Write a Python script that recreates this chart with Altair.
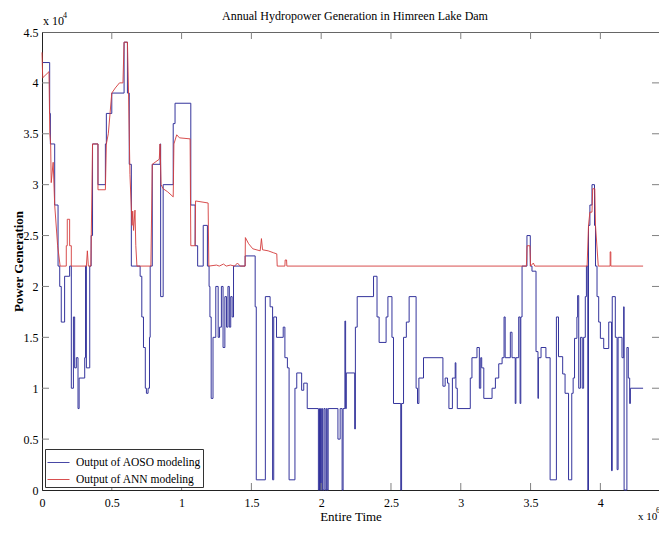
import altair as alt
import pandas as pd

# AOSO output (step series): x in units of 1e6, y in units of 1e4
aoso_x = [0.000, 0.055, 0.060, 0.091, 0.115, 0.127, 0.138, 0.162, 0.198, 0.210,
          0.225, 0.234, 0.246, 0.258, 0.266, 0.306, 0.312, 0.318, 0.342, 0.352,
          0.362, 0.401, 0.454, 0.461, 0.500, 0.588, 0.612, 0.625, 0.640, 0.703,
          0.715, 0.727, 0.740, 0.748, 0.760, 0.770, 0.775, 0.790, 0.846, 0.850,
          0.868, 0.940, 0.953, 1.066, 1.097, 1.115, 1.155, 1.185, 1.197, 1.203,
          1.212, 1.225, 1.245, 1.262, 1.272, 1.285, 1.297, 1.310, 1.322, 1.332,
          1.342, 1.352, 1.362, 1.372, 1.455, 1.527, 1.535, 1.600, 1.634, 1.652,
          1.660, 1.680, 1.728, 1.740, 1.758, 1.770, 1.812, 1.825, 1.860, 1.875,
          1.900, 1.980, 1.988, 1.995, 2.003, 2.010, 2.020, 2.028, 2.037, 2.043,
          2.050, 2.120, 2.136, 2.150, 2.157, 2.170, 2.175, 2.180, 2.240, 2.245,
          2.258, 2.375, 2.400, 2.415, 2.465, 2.478, 2.507, 2.518, 2.570, 2.576,
          2.590, 2.610, 2.630, 2.680, 2.690, 2.700, 2.733, 2.872, 2.888, 2.905,
          2.915, 2.940, 2.960, 2.965, 2.975, 3.068, 3.080, 3.116, 3.133, 3.143,
          3.150, 3.165, 3.224, 3.248, 3.272, 3.296, 3.310, 3.318, 3.355, 3.367,
          3.390, 3.395, 3.415, 3.425, 3.430, 3.439, 3.474, 3.498, 3.510, 3.539,
          3.553, 3.556, 3.575, 3.610, 3.640, 3.685, 3.700, 3.730, 3.747, 3.772,
          3.795, 3.805, 3.815, 3.832, 3.837, 3.845, 3.857, 3.870, 3.880, 3.892,
          3.900, 3.910, 3.915, 3.925, 3.940, 3.958, 3.965, 3.976, 3.988, 4.000,
          4.024, 4.060, 4.080, 4.085, 4.107, 4.120, 4.127, 4.155, 4.167, 4.170,
          4.190, 4.200, 4.210, 4.215, 4.306]
aoso_y = [4.2, 3.7, 3.4, 2.8, 2.2, 2.0, 1.65, 2.1, 2.2, 1.0,
          1.7, 1.2, 1.3, 0.8, 1.1, 1.3, 2.2, 1.2, 2.2, 2.5,
          3.4, 3.0, 3.4, 3.7, 3.9, 4.4, 3.9, 3.2, 2.2, 2.1,
          1.7, 1.4, 1.0, 0.95, 1.0, 1.5, 2.2, 3.2, 3.4, 1.9,
          3.0, 3.6, 3.8, 2.8, 2.4, 2.2, 2.6, 2.2, 2.0, 1.7,
          0.9, 1.5, 2.0, 1.5, 1.6, 2.0, 1.4, 1.9, 1.6, 2.0,
          1.6, 1.9, 1.7, 2.2, 2.3, 1.8, 0.1, 1.9, 1.8, 0.1,
          1.7, 1.5, 1.6, 1.3, 1.2, 0.1, 1.0, 1.15, 0.98, 1.05,
          0.8, 0.0, 0.8, 0.0, 0.8, 0.0, 0.8, 0.0, 0.8, 0.0,
          0.8, 0.5, 0.8, 0.0, 0.8, 1.66, 0.8, 1.15, 0.6, 1.6,
          1.9, 2.1, 1.7, 1.45, 1.7, 1.9, 1.5, 0.85, 0.0, 0.85,
          1.5, 1.65, 1.9, 1.0, 0.85, 1.1, 1.3, 1.02, 1.1, 1.05,
          0.8, 1.1, 1.25, 1.0, 0.8, 1.1, 1.3, 1.4, 1.0, 1.3,
          1.2, 0.9, 1.0, 1.1, 1.24, 1.3, 1.7, 1.3, 1.55, 1.3,
          0.85, 1.3, 1.7, 0.85, 1.7, 2.2, 2.5, 2.2, 2.15, 1.36,
          0.9, 1.3, 1.4, 1.3, 0.1, 1.7, 1.31, 1.14, 0.95, 0.1,
          0.95, 1.1, 1.49, 1.7, 1.91, 1.0, 1.5, 1.0, 1.5, 1.9,
          2.2, 0.0, 2.6, 2.8, 3.0, 2.6, 2.2, 1.9, 1.65, 1.49,
          1.39, 1.65, 0.19, 1.9, 1.5, 0.2, 1.5, 1.3, 1.8, 0.0,
          1.4, 1.1, 0.85, 1.0, 1.0]

# ANN output (vertices, linear)
ann_x = [0.000, 0.005, 0.050, 0.056, 0.062, 0.066, 0.080, 0.091, 0.112, 0.130,
         0.174, 0.174, 0.181, 0.181, 0.198, 0.198, 0.210, 0.210, 0.318, 0.325,
         0.332, 0.350, 0.362, 0.401, 0.401, 0.454, 0.461, 0.475, 0.500, 0.525,
         0.555, 0.580, 0.588, 0.612, 0.620, 0.630, 0.645, 0.650, 0.656, 0.666,
         0.672, 0.680, 0.780, 0.790, 0.840, 0.846, 0.853, 0.868, 0.900, 0.940,
         0.945, 0.965, 0.985, 1.061, 1.066, 1.097, 1.100, 1.190, 1.195, 1.250,
         1.270, 1.300, 1.320, 1.350, 1.380, 1.400, 1.420, 1.455, 1.457, 1.480,
         1.510, 1.563, 1.572, 1.580, 1.620, 1.660, 1.682, 1.685, 1.740, 1.742,
         1.752, 1.754, 3.470, 3.475, 3.495, 3.500, 3.520, 3.530, 3.905, 3.915,
         3.925, 3.940, 3.945, 3.960, 3.965, 3.985, 4.070, 4.070, 4.075, 4.075,
         4.306]
ann_y = [4.3, 4.05, 4.11, 3.5, 3.4, 3.02, 3.22, 2.8, 2.4, 2.2,
         2.2, 2.4, 2.4, 2.66, 2.66, 2.4, 2.4, 2.2, 2.2, 2.35,
         2.2, 2.2, 3.4, 3.4, 2.95, 2.95, 3.4, 3.5, 3.9, 3.95,
         4.0, 4.0, 4.4, 4.4, 3.9, 3.1, 2.6, 2.74, 2.55, 2.75,
         2.4, 2.2, 2.2, 3.2, 3.25, 3.4, 3.0, 2.96, 2.93, 2.88,
         3.4, 3.49, 3.46, 3.45, 2.4, 2.4, 2.84, 2.82, 2.2, 2.21,
         2.2, 2.22, 2.2, 2.21, 2.2, 2.23, 2.2, 2.2, 2.48, 2.42,
         2.37, 2.35, 2.47, 2.36, 2.35, 2.33, 2.32, 2.2, 2.2, 2.26,
         2.26, 2.2, 2.2, 2.4, 2.4, 2.2, 2.23, 2.2, 2.2, 2.6,
         2.73, 2.73, 2.96, 2.96, 2.6, 2.2, 2.2, 2.34, 2.34, 2.2,
         2.2]

x_ticks = [0, 0.5, 1, 1.5, 2, 2.5, 3, 3.5, 4]
y_ticks = [0, 0.5, 1, 1.5, 2, 2.5, 3, 3.5, 4, 4.5]
series_names = ["Output of AOSO modeling", "Output of ANN modeling"]
series_colors = ["#34349c", "#d43c3c"]
title_text = "Annual Hydropower Generation in Himreen Lake Dam"

W, H = 617, 458
FONT = "Liberation Serif"

aoso = pd.DataFrame({"x": aoso_x, "y": aoso_y, "series": series_names[0],
                     "i": list(range(len(aoso_x)))})
ann = pd.DataFrame({"x": ann_x, "y": ann_y, "series": series_names[1],
                    "i": list(range(len(ann_x)))})

xscale = alt.Scale(domain=[0, 4.42], nice=False, zero=False)
yscale = alt.Scale(domain=[0, 4.5], nice=False, zero=False)
xaxis = alt.Axis(values=x_ticks, format="~g", ticks=False, grid=False,
                 labelPadding=7, labelFlush=False, labelOverlap=False,
                 title="Entire Time", titleFontSize=13, titleFontWeight="normal",
                 titleBaseline="alphabetic", titleY=30)
yaxis = alt.Axis(values=y_ticks, format="~g", ticks=False, grid=False,
                 labelPadding=4, labelFlush=False, labelOverlap=False,
                 title="Power Generation", titleFontSize=13, titleFontWeight="bold",
                 titleX=-24, titleY=H / 2, titleAlign="center", titleBaseline="middle",
                 titleAngle=270)

xenc = alt.X("x:Q", scale=xscale, axis=xaxis)
yenc = alt.Y("y:Q", scale=yscale, axis=yaxis)
color = alt.Color("series:N",
                  scale=alt.Scale(domain=series_names, range=series_colors),
                  legend=alt.Legend(title=None, orient="bottom-left"))

blue = alt.Chart(aoso).mark_line(interpolate="step-after", strokeWidth=1).encode(
    x=xenc, y=yenc, color=color, order="i:Q")
red = alt.Chart(ann).mark_line(strokeWidth=1, opacity=0.9).encode(
    x=xenc, y=yenc, color=color, order="i:Q")

inner_x = pd.DataFrame({"x": x_ticks[1:]})
inner_y = pd.DataFrame({"y": y_ticks[1:-1]})
tick_color = "#808080"
t_bottom = alt.Chart(inner_x).mark_rule(color=tick_color, strokeWidth=1).encode(
    x=xenc, y=alt.value(H), y2=alt.value(H - 7))
t_top = alt.Chart(inner_x).mark_rule(color=tick_color, strokeWidth=1).encode(
    x=xenc, y=alt.value(0), y2=alt.value(7))
t_left = alt.Chart(inner_y).mark_rule(color=tick_color, strokeWidth=1).encode(
    y=yenc, x=alt.value(0), x2=alt.value(7))
t_right = alt.Chart(inner_y).mark_rule(color=tick_color, strokeWidth=1).encode(
    y=yenc, x=alt.value(W), x2=alt.value(W - 7))

def note(txt, px, py, size, align="left"):
    return alt.Chart(pd.DataFrame({"t": [txt]})).mark_text(
        font=FONT, fontSize=size, align=align, baseline="alphabetic", color="black"
    ).encode(x=alt.value(px), y=alt.value(py), text="t:N")

title_mark = note(title_text, 313, -12, 12, align="center")
exp_top = note("x 10", 1, -7, 12) + note("4", 21, -14, 8)
exp_bot = note("x 10", 596, 488, 11) + note("6", 614, 481, 8)

chart = alt.layer(
    blue, red, t_bottom, t_top, t_left, t_right, title_mark, exp_top, exp_bot
).properties(
    width=W, height=H,
    padding={"left": 34, "top": 24, "right": 0, "bottom": 35},
    autosize=alt.AutoSizeParams(type="none"),
).configure_view(
    stroke="#666666", strokeWidth=1
).configure_axis(
    labelFont=FONT, labelFontSize=12, labelColor="black",
    titleFont=FONT, titleColor="black", domainColor="#222222", domainWidth=1
).configure_legend(
    orient="bottom-left", offset=3, padding=2, fillColor="white",
    strokeColor="#333333", symbolType="stroke", symbolSize=484,
    symbolStrokeWidth=1, labelFont=FONT, labelFontSize=11.5, labelColor="black",
    rowPadding=0, labelOffset=6, cornerRadius=0
)

chart.save("out.html", embed_options={"renderer": "svg", "actions": False})
